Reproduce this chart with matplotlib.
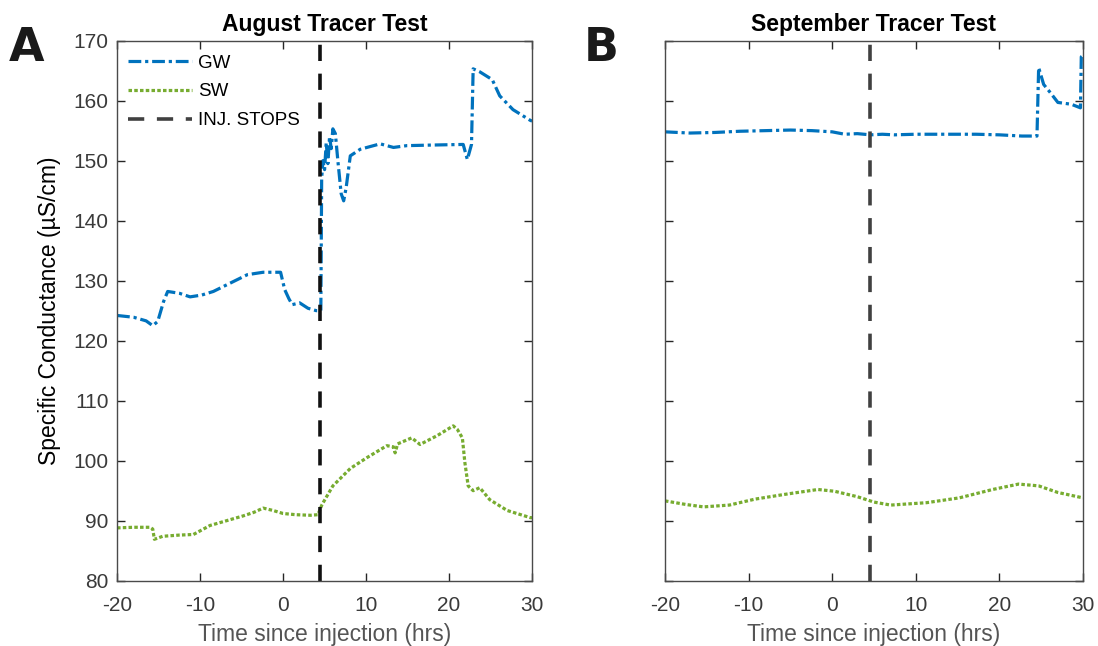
from __future__ import annotations

import matplotlib

matplotlib.use("Agg")
import matplotlib.pyplot as plt
from matplotlib.lines import Line2D


GW_COLOR = "#0072BD"
SW_COLOR = "#77AC30"
AXIS_GRAY = "#262626"
INJECTION_STOP_HRS = 4.5

# August test, groundwater and surface water
AUG_GW_HRS = [-20, -18, -16.5, -15.7, -15.1, -14.4, -13.9, -12.5, -11.2, -9.8, -8.4, -6.5, -4.3,
              -2.4, -0.3, 0.2, 0.7, 1.1, 2.0, 3.0, 4.0, 4.55, 4.65, 4.8, 5.0, 5.2, 5.4, 5.6, 5.8,
              6.0, 6.3, 6.6, 7.0, 7.3, 7.6, 8.1, 9.3, 11.7, 13.3, 14.9, 18.0, 21.7, 22.2, 22.7,
              22.9, 23.7, 25.2, 26.1, 27.7, 29.8, 30]
AUG_GW = [124.2, 123.9, 123.3, 122.5, 123.2, 126.5, 128.2, 127.9, 127.3, 127.6, 128.2, 129.5, 131.0,
          131.4, 131.4, 128.5, 127.0, 126.0, 126.3, 125.4, 125.0, 125.0, 147.0, 150.0, 148.5, 153.0,
          149.5, 154.0, 152.0, 155.3, 154.5, 150.0, 144.5, 143.3, 145.5, 150.8, 151.9, 152.8, 152.2,
          152.5, 152.6, 152.7, 150.2, 152.7, 165.3, 164.8, 163.5, 160.8, 158.5, 156.7, 156.6]

AUG_SW_HRS = [-20, -18, -16, -15.7, -15.5, -14.5, -12.5, -10.8, -8.8, -6.8, -4.8, -3.5, -2.4, -1.2,
              0, 1.5, 3.3, 4.2, 4.7, 6.0, 8.1, 10.1, 12.5, 13.3, 13.5, 13.8, 15.5, 16.5, 18.6, 20.5,
              21.0, 21.6, 21.9, 22.3, 22.9, 23.7, 24.9, 27.0, 29.8, 30]
AUG_SW = [88.8, 88.9, 88.9, 88.6, 86.9, 87.4, 87.6, 87.7, 89.2, 90.0, 90.8, 91.4, 92.1, 91.7,
          91.2, 91.0, 90.9, 91.0, 92.7, 95.8, 98.7, 100.5, 102.5, 102.3, 101.3, 102.8, 103.8, 102.7,
          104.2, 105.8, 105.2, 103.8, 99.7, 95.8, 95.0, 95.5, 93.5, 91.7, 90.5, 90.5]

# September test
SEP_GW_HRS = [-20, -17, -14, -11, -8, -5, -2.4, 0, 1.5, 3, 4.6, 6, 7.4, 10, 13, 17.2, 20, 22.7,
              24.5, 24.7, 25.3, 26, 27, 28.6, 29.7, 29.8, 30]
SEP_GW = [154.8, 154.6, 154.7, 154.9, 155.0, 155.1, 155.0, 154.8, 154.4, 154.5, 154.3, 154.4, 154.3,
          154.4, 154.4, 154.4, 154.3, 154.1, 154.1, 165.5, 162.7, 161.5, 159.7, 159.4, 158.8, 167.3,
          167.5]

SEP_SW_HRS = [-20, -17.5, -15.4, -12.3, -9.2, -5.6, -1.7, 0.3, 3, 5, 7, 11.3, 15.2, 19.2, 22.3,
              24.7, 27, 30]
SEP_SW = [93.3, 92.7, 92.3, 92.6, 93.6, 94.4, 95.2, 94.9, 94.0, 93.1, 92.6, 93.0, 93.8, 95.2, 96.1,
          95.8, 94.7, 93.8]

X_TICKS = [-20, -10, 0, 10, 20, 30]
Y_TICKS = [80, 90, 100, 110, 120, 130, 140, 150, 160, 170]

GW_STYLE = dict(color=GW_COLOR, linewidth=2.3, linestyle=(0, (4, 1.2, 1, 1.2)))
SW_STYLE = dict(color=SW_COLOR, linewidth=2.3, linestyle=(0, (1.1, 0.7)))
STOP_STYLE = dict(linewidth=2.6, linestyle=(0, (4.5, 3.5)))


def style_axis(axis, title, show_ylabels):
    axis.set_xlim(-20, 30)
    axis.set_ylim(80, 170)
    axis.set_xticks(X_TICKS)
    axis.set_yticks(Y_TICKS)
    if not show_ylabels:
        axis.set_yticklabels([])
    axis.tick_params(direction="in", top=True, right=True, length=6, width=1,
                     colors=AXIS_GRAY, labelsize=15, labelcolor="#3a3a3a")
    axis.tick_params(axis="x", pad=11)
    axis.tick_params(axis="y", pad=6)
    for spine in axis.spines.values():
        spine.set_color("#4a4a4a")
        spine.set_linewidth(1.0)
    axis.set_title(title, fontsize=16.5, fontweight="bold", pad=7)
    axis.set_xlabel("Time since injection (hrs)", fontsize=16.5, color="#555555", labelpad=6)


def plot_panel(axis, gw_hrs, gw, sw_hrs, sw, stop_color):
    axis.plot(gw_hrs, gw, **GW_STYLE)
    axis.plot(sw_hrs, sw, **SW_STYLE)
    axis.axvline(INJECTION_STOP_HRS, color=stop_color, **STOP_STYLE)


def main():
    plt.rcParams["font.family"] = ["Liberation Sans", "DejaVu Sans"]
    plt.rcParams["axes.unicode_minus"] = False
    figure = plt.figure(figsize=(10.98, 6.46), dpi=100)
    ax_aug = figure.add_axes([0.1066, 0.1011, 0.378, 0.836])
    ax_sep = figure.add_axes([0.6056, 0.1011, 0.3807, 0.836])

    plot_panel(ax_aug, AUG_GW_HRS, AUG_GW, AUG_SW_HRS, AUG_SW, "#111111")
    plot_panel(ax_sep, SEP_GW_HRS, SEP_GW, SEP_SW_HRS, SEP_SW, "#404040")

    style_axis(ax_aug, "August Tracer Test", True)
    style_axis(ax_sep, "September Tracer Test", False)
    ax_aug.set_ylabel("Specific Conductance (\u00b5S/cm)", fontsize=16.5, labelpad=9)

    handles = [
        Line2D([], [], **GW_STYLE),
        Line2D([], [], **SW_STYLE),
        Line2D([], [], color="#404040", **STOP_STYLE),
    ]
    ax_aug.legend(handles, ["GW", "SW", "INJ. STOPS"], loc="upper left", frameon=False,
                  fontsize=13.5, handlelength=3.4, handletextpad=0.3, labelspacing=0.62,
                  borderaxespad=0.2, bbox_to_anchor=(0.0, 0.995))

    panel_font = dict(fontsize=33, fontweight="bold", color="#1a1a1a", family="DejaVu Sans")
    figure.text(0.008, 0.905, "A", **panel_font)
    figure.text(0.532, 0.905, "B", **panel_font)

    figure.savefig("out.png", dpi=100)
    plt.close(figure)


if __name__ == "__main__":
    main()
